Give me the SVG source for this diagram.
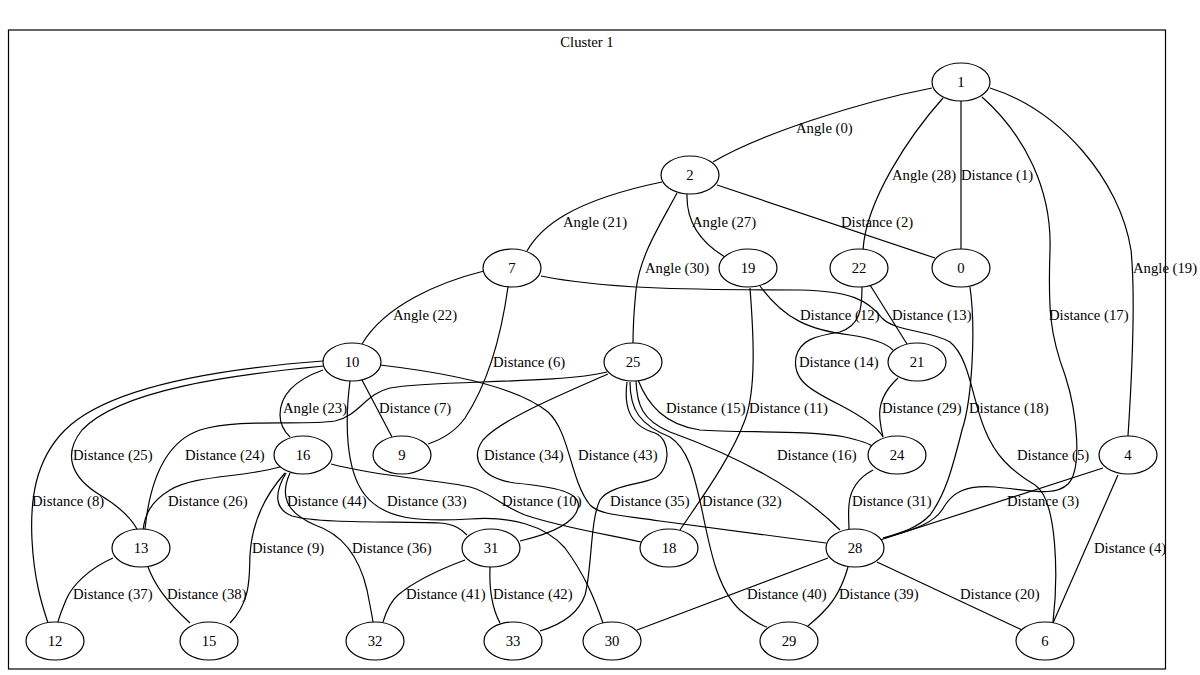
<svg xmlns="http://www.w3.org/2000/svg" width="1200" height="675" viewBox="0 0 1200 675">
<style>
text{font-family:"Liberation Serif","Times New Roman",serif;font-size:14.7px;fill:#000}
.n ellipse{fill:#fff;stroke:#000;stroke-width:1.2}
.n text{text-anchor:middle}
#edges path{fill:none;stroke:#000;stroke-width:1.2}
#labels text{text-anchor:start}
</style>
<rect x="8.5" y="30" width="1157" height="639" fill="#fff" stroke="#000" stroke-width="1.2"/>
<text x="587" y="47" text-anchor="middle">Cluster 1</text>
<g id="edges">
<path d="M932,88 C860,102 760,134 713,162"/>
<path d="M943,98 C910,135 866,200 863,250"/>
<path d="M961,101 L961,249"/>
<path d="M717,185 L935,258"/>
<path d="M662,182 C570,201 540,228 527,251"/>
<path d="M687,194 C686,225 705,245 725,257"/>
<path d="M990,88 C1060,110 1120,180 1131,250 C1136,300 1131,390 1128,436"/>
<path d="M677,193 C660,225 640,255 636,290 C634,310 633,330 633,343"/>
<path d="M760,286 C785,320 810,330 850,335 C870,338 885,342 893,350"/>
<path d="M870,285 L907,344"/>
<path d="M982,97 C1025,135 1052,190 1050,250 C1048,310 1050,335 1065,375 C1078,415 1082,470 1068,484 C1055,497 1030,490 995,487 C965,485 952,492 942,510 C932,525 910,530 885,538"/>
<path d="M484,271 C440,282 385,305 362,344"/>
<path d="M508,287 C502,330 490,380 465,418 C455,432 440,440 428,444"/>
<path d="M862,287 C862,310 860,325 840,332 C815,336 800,340 796,357 C792,380 810,390 840,405 C865,418 878,428 883,437"/>
<path d="M362,380 L392,437"/>
<path d="M323,370 C295,380 280,395 280,415 C280,425 285,432 290,437"/>
<path d="M638,380 C648,405 665,425 700,430 C740,433 810,430 845,437 C858,440 868,443 872,446"/>
<path d="M750,288 C754,340 756,390 745,420 C730,460 700,500 680,530"/>
<path d="M898,378 C885,390 878,405 880,420 C881,428 882,433 883,437"/>
<path d="M970,287 C976,330 972,400 962,430 C952,470 945,495 930,515 C918,528 900,533 883,538"/>
<path d="M324,366 C230,375 120,390 82,430 C62,455 72,478 100,495 C120,507 132,520 137,529"/>
<path d="M607,372 C560,384 430,380 390,388 C365,394 360,415 335,421 C300,426 240,418 200,430 C165,442 150,480 145,529"/>
<path d="M608,374 C560,395 500,420 483,440 C470,458 480,478 515,483 C555,487 582,492 578,508 C574,525 545,535 520,541"/>
<path d="M380,365 C440,372 515,385 548,412 C570,432 570,480 590,505 C600,515 620,515 660,521 L826,543"/>
<path d="M636,381 C637,405 642,420 670,432 C720,450 790,480 840,530"/>
<path d="M541,276 C600,288 680,290 800,290 C850,291 868,300 882,318 C895,332 930,330 950,342 C970,358 972,400 985,430 C995,455 1010,470 1035,485 C1058,500 1058,580 1053,622"/>
<path d="M323,361 C230,368 110,385 65,430 C35,460 30,500 32,540 C34,580 42,605 48,623"/>
<path d="M280,467 C240,478 195,475 170,490 C150,502 145,515 143,530"/>
<path d="M286,473 C276,490 272,508 292,516 C320,524 400,521 440,523 C455,524 462,530 467,535"/>
<path d="M350,381 C345,420 345,470 365,495 C385,520 420,522 470,519 C510,516 545,525 565,548 C585,575 595,600 603,623"/>
<path d="M331,464 C380,477 440,480 470,487 C490,492 500,505 525,515 C560,527 610,535 641,542"/>
<path d="M627,382 C624,405 628,425 655,433 C672,440 670,470 655,478 C640,485 610,485 600,500 C590,520 592,570 585,595 C578,615 560,625 540,631"/>
<path d="M630,382 C630,410 640,425 670,437 C690,450 695,480 702,510 C710,550 718,590 740,610 C752,620 760,625 767,627"/>
<path d="M873,470 C858,478 850,490 849,505 C848,515 849,522 849,529"/>
<path d="M1103,468 L880,540"/>
<path d="M285,473 C268,492 252,520 250,555 C249,575 252,600 230,623"/>
<path d="M290,473 C280,495 285,512 315,525 C345,535 360,560 367,590 C370,605 372,615 373,622"/>
<path d="M1118,475 L1053,623"/>
<path d="M113,558 C90,568 72,585 66,600 C62,610 59,617 58,622"/>
<path d="M148,567 C155,585 165,600 190,623"/>
<path d="M465,560 C430,573 410,585 398,595 C390,602 386,612 383,622"/>
<path d="M490,567 C489,590 492,608 500,623"/>
<path d="M828,558 L637,630"/>
<path d="M848,567 C842,588 835,600 825,610 C818,618 812,622 807,627"/>
<path d="M877,562 L1022,630"/>
</g>
<g id="labels">
<text x="796" y="133">Angle (0)</text>
<text x="892" y="180">Angle (28)</text>
<text x="961" y="180">Distance (1)</text>
<text x="841" y="227">Distance (2)</text>
<text x="563" y="227">Angle (21)</text>
<text x="692" y="227">Angle (27)</text>
<text x="1133" y="273">Angle (19)</text>
<text x="645" y="273">Angle (30)</text>
<text x="800" y="320">Distance (12)</text>
<text x="892" y="320">Distance (13)</text>
<text x="1049" y="320">Distance (17)</text>
<text x="393" y="320">Angle (22)</text>
<text x="493" y="367">Distance (6)</text>
<text x="799" y="367">Distance (14)</text>
<text x="379" y="413">Distance (7)</text>
<text x="283" y="413">Angle (23)</text>
<text x="666" y="413">Distance (15)</text>
<text x="749" y="413">Distance (11)</text>
<text x="882" y="413">Distance (29)</text>
<text x="969" y="413">Distance (18)</text>
<text x="73" y="460">Distance (25)</text>
<text x="185" y="460">Distance (24)</text>
<text x="484" y="460">Distance (34)</text>
<text x="578" y="460">Distance (43)</text>
<text x="777" y="460">Distance (16)</text>
<text x="1017" y="460">Distance (5)</text>
<text x="32" y="506">Distance (8)</text>
<text x="168" y="506">Distance (26)</text>
<text x="287" y="506">Distance (44)</text>
<text x="387" y="506">Distance (33)</text>
<text x="502" y="506">Distance (10)</text>
<text x="610" y="506">Distance (35)</text>
<text x="702" y="506">Distance (32)</text>
<text x="852" y="506">Distance (31)</text>
<text x="1007" y="506">Distance (3)</text>
<text x="252" y="553">Distance (9)</text>
<text x="352" y="553">Distance (36)</text>
<text x="1094" y="553">Distance (4)</text>
<text x="73" y="599">Distance (37)</text>
<text x="167" y="599">Distance (38)</text>
<text x="406" y="599">Distance (41)</text>
<text x="493" y="599">Distance (42)</text>
<text x="747" y="599">Distance (40)</text>
<text x="839" y="599">Distance (39)</text>
<text x="960" y="599">Distance (20)</text>
</g>
<g id="node1" class="n"><ellipse cx="961" cy="82" rx="29" ry="19"/><text x="961" y="87">1</text></g>
<g id="node2" class="n"><ellipse cx="690" cy="175" rx="29" ry="19"/><text x="690" y="180">2</text></g>
<g id="node7" class="n"><ellipse cx="512" cy="268" rx="29" ry="19"/><text x="512" y="273">7</text></g>
<g id="node19" class="n"><ellipse cx="748" cy="268" rx="29" ry="19"/><text x="748" y="273">19</text></g>
<g id="node22" class="n"><ellipse cx="859" cy="268" rx="29" ry="19"/><text x="859" y="273">22</text></g>
<g id="node0" class="n"><ellipse cx="961" cy="268" rx="29" ry="19"/><text x="961" y="273">0</text></g>
<g id="node10" class="n"><ellipse cx="352" cy="362" rx="29" ry="19"/><text x="352" y="367">10</text></g>
<g id="node25" class="n"><ellipse cx="633" cy="362" rx="29" ry="19"/><text x="633" y="367">25</text></g>
<g id="node21" class="n"><ellipse cx="917" cy="362" rx="29" ry="19"/><text x="917" y="367">21</text></g>
<g id="node16" class="n"><ellipse cx="303" cy="455" rx="29" ry="19"/><text x="303" y="460">16</text></g>
<g id="node9" class="n"><ellipse cx="402" cy="455" rx="29" ry="19"/><text x="402" y="460">9</text></g>
<g id="node24" class="n"><ellipse cx="897" cy="455" rx="29" ry="19"/><text x="897" y="460">24</text></g>
<g id="node4" class="n"><ellipse cx="1128" cy="455" rx="29" ry="19"/><text x="1128" y="460">4</text></g>
<g id="node13" class="n"><ellipse cx="141" cy="548" rx="29" ry="19"/><text x="141" y="553">13</text></g>
<g id="node31" class="n"><ellipse cx="491" cy="548" rx="29" ry="19"/><text x="491" y="553">31</text></g>
<g id="node18" class="n"><ellipse cx="669" cy="548" rx="29" ry="19"/><text x="669" y="553">18</text></g>
<g id="node28" class="n"><ellipse cx="855" cy="548" rx="29" ry="19"/><text x="855" y="553">28</text></g>
<g id="node12" class="n"><ellipse cx="55" cy="641" rx="29" ry="19"/><text x="55" y="646">12</text></g>
<g id="node15" class="n"><ellipse cx="209" cy="641" rx="29" ry="19"/><text x="209" y="646">15</text></g>
<g id="node32" class="n"><ellipse cx="375" cy="641" rx="29" ry="19"/><text x="375" y="646">32</text></g>
<g id="node33" class="n"><ellipse cx="513" cy="641" rx="29" ry="19"/><text x="513" y="646">33</text></g>
<g id="node30" class="n"><ellipse cx="612" cy="641" rx="29" ry="19"/><text x="612" y="646">30</text></g>
<g id="node29" class="n"><ellipse cx="789" cy="641" rx="29" ry="19"/><text x="789" y="646">29</text></g>
<g id="node6" class="n"><ellipse cx="1045" cy="641" rx="29" ry="19"/><text x="1045" y="646">6</text></g>
</svg>
